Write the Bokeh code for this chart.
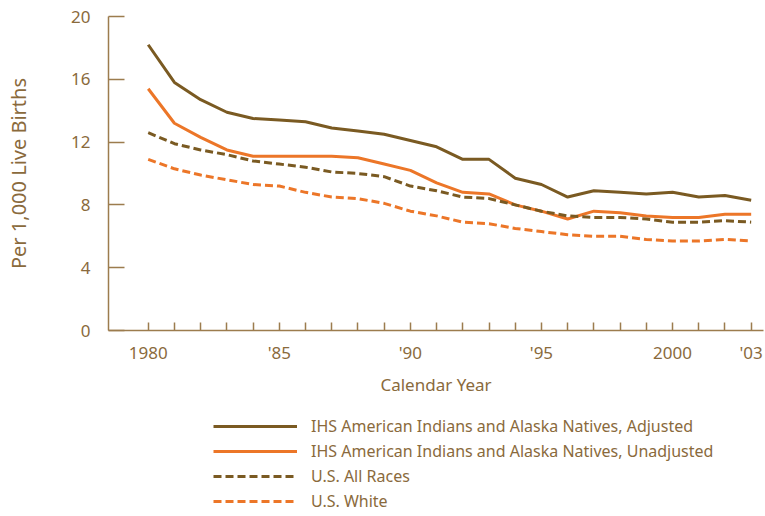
from bokeh.plotting import figure
from bokeh.layouts import column
from bokeh.models import FixedTicker, Legend, LegendItem, Range1d
from bokeh.embed import file_html
from bokeh.resources import INLINE

years = list(range(1980, 2004))
ihs_adjusted = [18.2, 15.8, 14.7, 13.9, 13.5, 13.4, 13.3, 12.9, 12.7, 12.5, 12.1, 11.7,
                10.9, 10.9, 9.7, 9.3, 8.5, 8.9, 8.8, 8.7, 8.8, 8.5, 8.6, 8.3]
ihs_unadjusted = [15.4, 13.2, 12.3, 11.5, 11.1, 11.1, 11.1, 11.1, 11.0, 10.6, 10.2, 9.4,
                  8.8, 8.7, 8.0, 7.6, 7.1, 7.6, 7.5, 7.3, 7.2, 7.2, 7.4, 7.4]
us_all_races = [12.6, 11.9, 11.5, 11.2, 10.8, 10.6, 10.4, 10.1, 10.0, 9.8, 9.2, 8.9,
                8.5, 8.4, 8.0, 7.6, 7.3, 7.2, 7.2, 7.1, 6.9, 6.9, 7.0, 6.9]
us_white = [10.9, 10.3, 9.9, 9.6, 9.3, 9.2, 8.8, 8.5, 8.4, 8.1, 7.6, 7.3,
            6.9, 6.8, 6.5, 6.3, 6.1, 6.0, 6.0, 5.8, 5.7, 5.7, 5.8, 5.7]
series_labels = ["IHS American Indians and Alaska Natives, Adjusted",
                 "IHS American Indians and Alaska Natives, Unadjusted",
                 "U.S. All Races", "U.S. White"]
x_tick_labels = {1980: "1980", 1985: "'85", 1990: "'90", 1995: "'95", 2000: "2000", 2003: "'03"}
y_ticks = [0, 4, 8, 12, 16, 20]

BROWN = "#7a5a22"
ORANGE = "#ec7628"
TEXT = "#8a6a3c"
AXIS = "#9c7c4e"
FONT = "Noto Sans"

series = [ihs_adjusted, ihs_unadjusted, us_all_races, us_white]
styles = [dict(line_color=BROWN, line_width=3),
          dict(line_color=ORANGE, line_width=3),
          dict(line_color=BROWN, line_width=3, line_dash="8 4"),
          dict(line_color=ORANGE, line_width=3, line_dash="8 4")]

p = figure(width=765, height=400, output_backend="svg", toolbar_location=None,
           x_range=Range1d(1978.485, 2003.47), y_range=Range1d(0, 20),
           min_border_left=108, min_border_right=2, min_border_top=16, min_border_bottom=70)
p.outline_line_color = None
p.xgrid.grid_line_color = None
p.ygrid.grid_line_color = None

for vals, st in zip(series, styles):
    p.line(years, vals, **st)

xa = p.xaxis[0]
xa.ticker = FixedTicker(ticks=years)
xa.major_label_overrides = {y: x_tick_labels.get(y, "") for y in years}
xa.minor_tick_line_color = None
xa.major_tick_in = 8
xa.major_tick_out = 0
xa.axis_line_color = AXIS
xa.axis_line_width = 1.5
xa.major_tick_line_color = AXIS
xa.major_tick_line_width = 1.5
xa.major_label_text_color = TEXT
xa.major_label_text_font = FONT
xa.major_label_text_font_size = "17px"
xa.major_label_standoff = 10
xa.axis_label = "Calendar Year"
xa.axis_label_text_color = TEXT
xa.axis_label_text_font = FONT
xa.axis_label_text_font_size = "17px"
xa.axis_label_text_font_style = "normal"
xa.axis_label_standoff = 6

ya = p.yaxis[0]
ya.ticker = FixedTicker(ticks=y_ticks)
ya.minor_tick_line_color = None
ya.major_tick_in = 16
ya.major_tick_out = 0
ya.axis_line_color = AXIS
ya.axis_line_width = 1.5
ya.major_tick_line_color = AXIS
ya.major_tick_line_width = 1.5
ya.major_label_text_color = TEXT
ya.major_label_text_font = FONT
ya.major_label_text_font_size = "17px"
ya.major_label_standoff = 18
ya.axis_label = "Per 1,000 Live Births"
ya.axis_label_text_color = TEXT
ya.axis_label_text_font = FONT
ya.axis_label_text_font_size = "20px"
ya.axis_label_text_font_style = "normal"
ya.axis_label_standoff = 36

# legend strip below the chart (its lines lie outside its own visible range)
lg = figure(width=765, height=116, output_backend="svg", toolbar_location=None,
            x_range=Range1d(0, 1), y_range=Range1d(0, 1),
            x_axis_type=None, y_axis_type=None, min_border=0)
lg.outline_line_color = None
lg.xgrid.grid_line_color = None
lg.ygrid.grid_line_color = None
legend_renderers = [lg.line(years, vals, **st) for vals, st in zip(series, styles)]

legend = Legend(items=[LegendItem(label=lab, renderers=[r])
                       for lab, r in zip(series_labels, legend_renderers)],
                location=(105, 4), orientation="vertical",
                glyph_width=84, glyph_height=22, label_height=22, label_standoff=14, spacing=3,
                padding=0, margin=0, border_line_color=None, background_fill_alpha=0,
                label_text_color=TEXT, label_text_font=FONT, label_text_font_size="16px")
lg.add_layout(legend, "center")

layout = column(p, lg, spacing=0)
open("out.html", "w").write(file_html(layout, INLINE))
